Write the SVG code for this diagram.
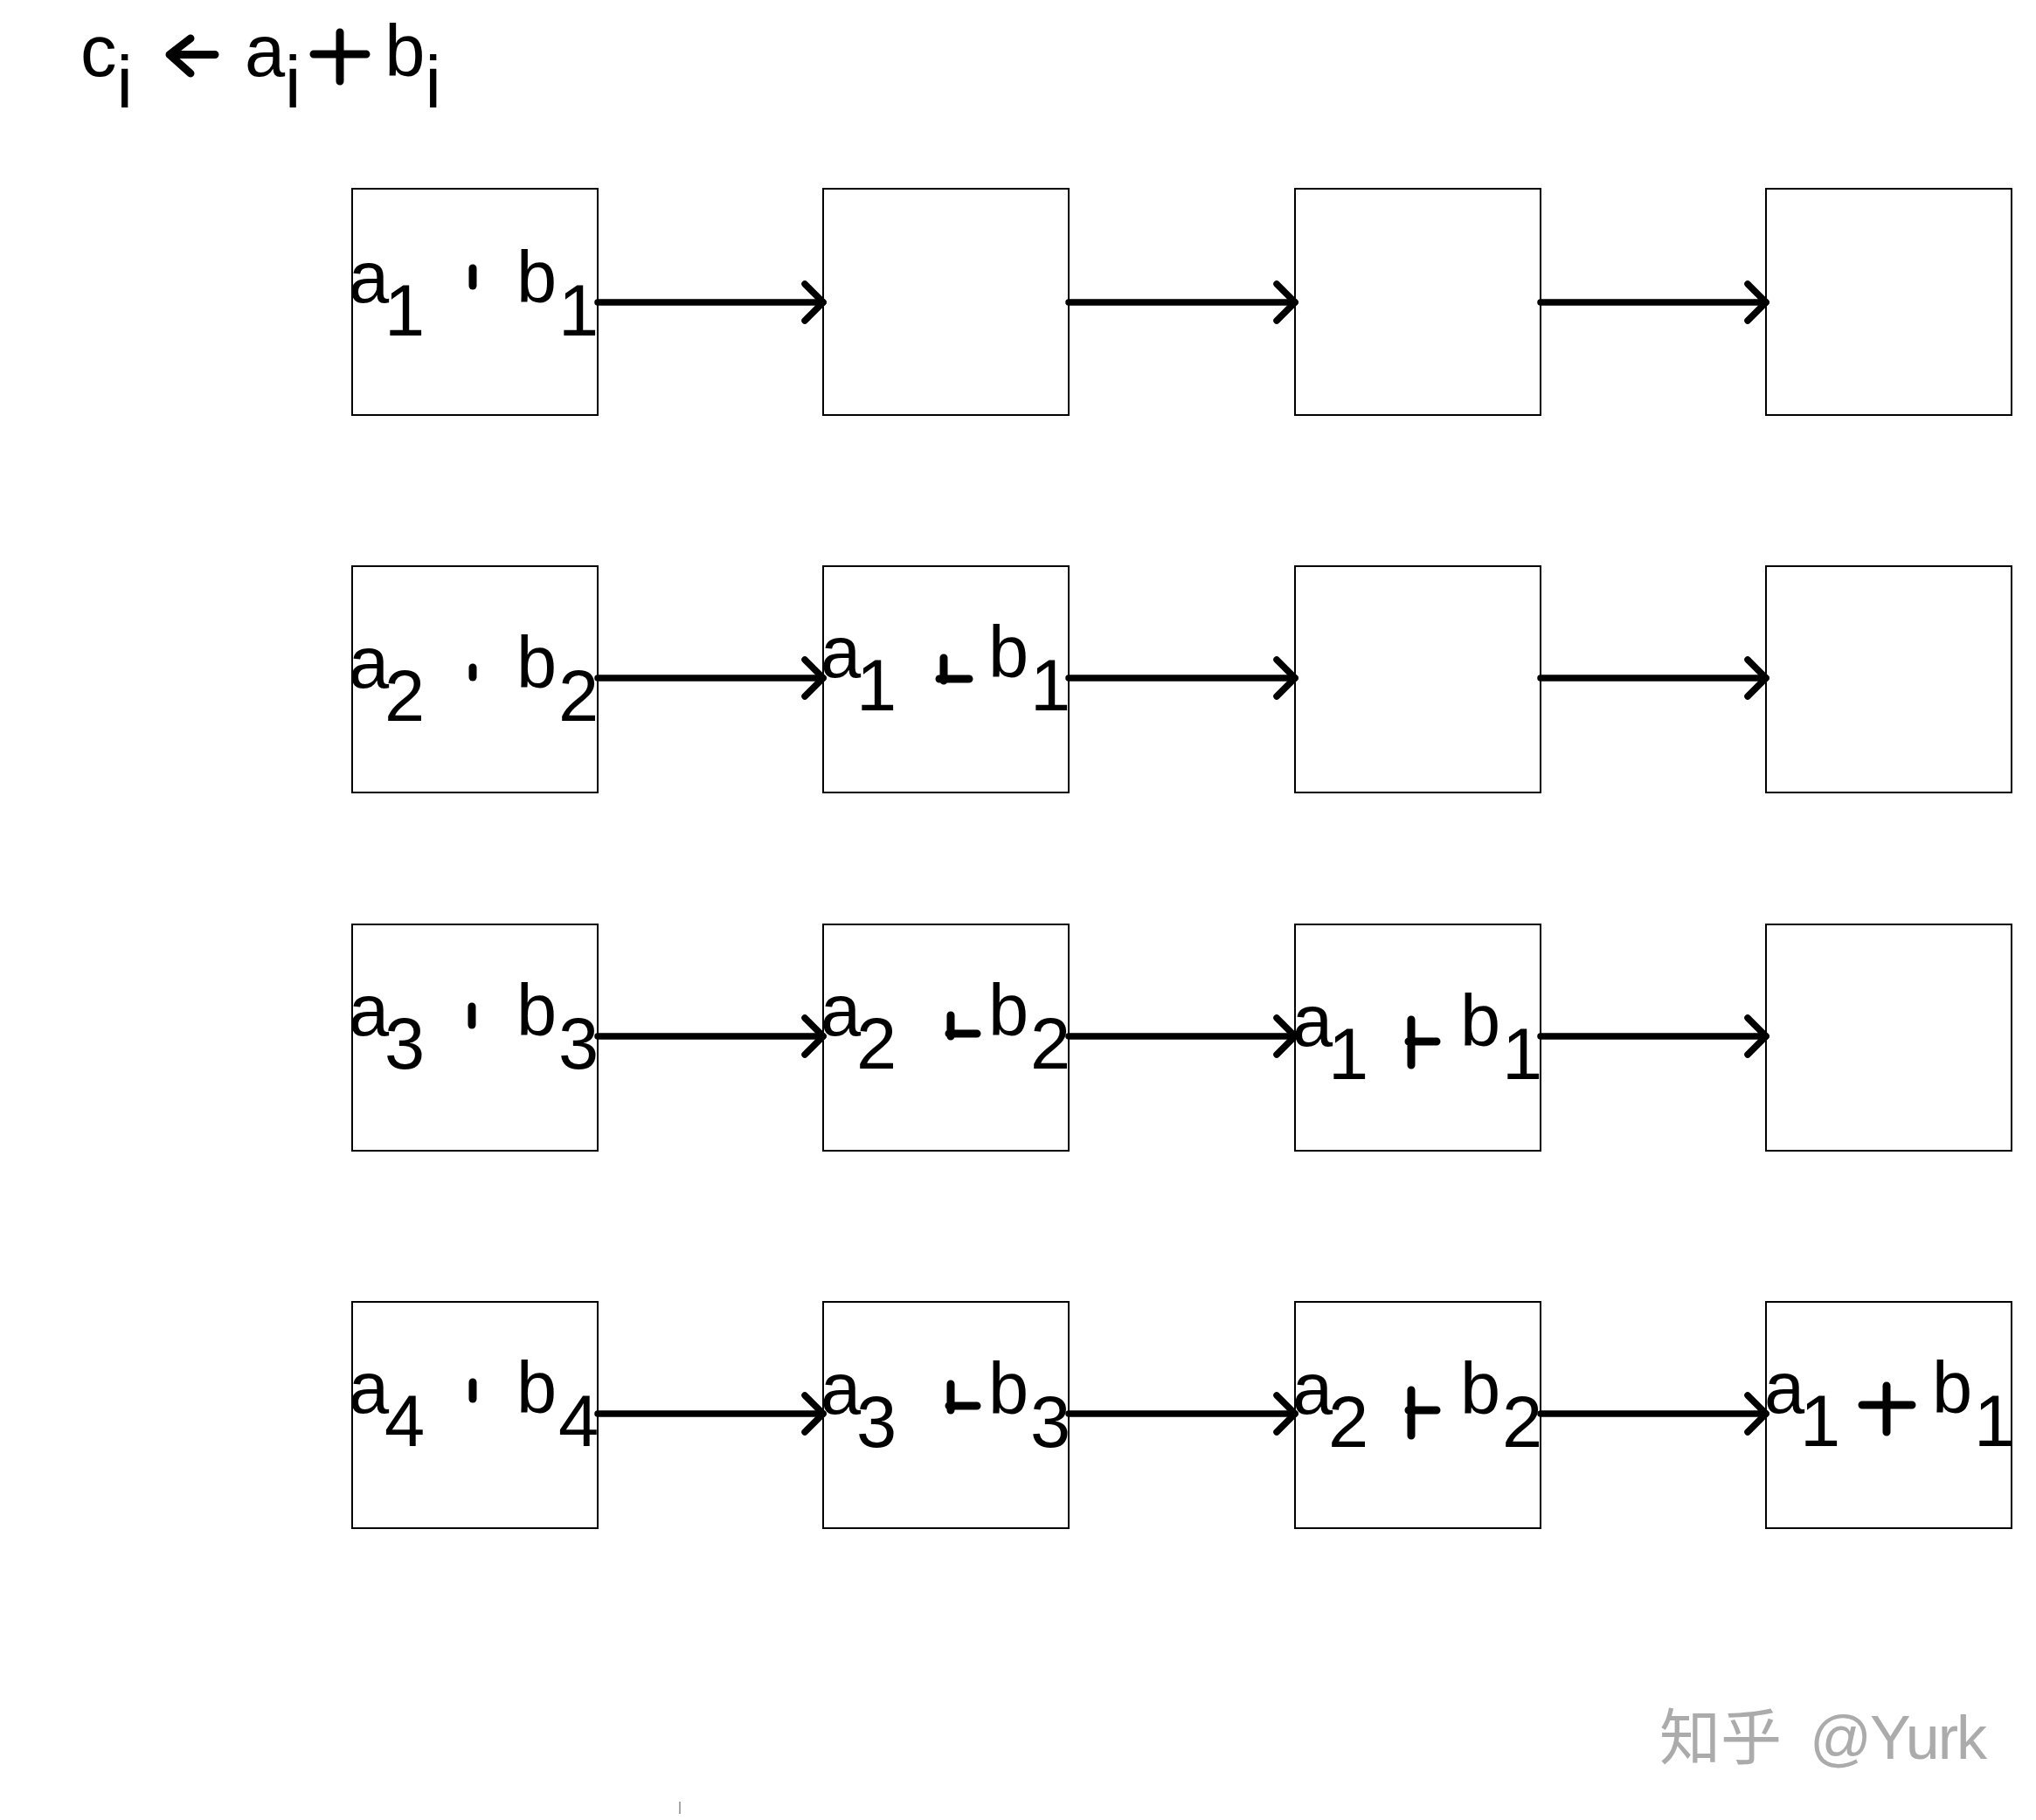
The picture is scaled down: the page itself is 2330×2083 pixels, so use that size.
<svg xmlns="http://www.w3.org/2000/svg" width="2330" height="2083" viewBox="0 0 2330 2083">
<style>
.bg{fill:#fff}
.box{fill:#fff;stroke:#000;stroke-width:2}
.t{font-family:"Liberation Sans",Arial,sans-serif;font-size:83px;fill:#000}
.pl{stroke:#000;stroke-width:9;stroke-linecap:round;stroke-linejoin:round;fill:none}
.con{stroke:#000;stroke-width:7.5;stroke-linecap:round;fill:none}
.wm{fill:#ababab;font-size:70px}
</style>
<defs>
<marker id="chev" viewBox="0 0 34 54" markerWidth="34" markerHeight="54" markerUnits="userSpaceOnUse" refX="28" refY="27" orient="auto">
<path d="M7,6 L28,27 L7,48" fill="none" stroke="#000" stroke-width="7.5" stroke-linecap="round" stroke-linejoin="round"/>
</marker>
</defs>
<rect class="bg" x="0" y="0" width="2330" height="2083"/>

<g id="header">
<text class="t" x="92" y="87">c</text>
<text class="t" x="133.4" y="123">i</text>
<path class="pl" d="M246,62.5 H195 M218,44 L194,62.5 L218,84" stroke-width="8"/>
<text class="t" x="280" y="87">a</text>
<text class="t" x="326" y="123">i</text>
<path class="pl" d="M359,62 H419 M389,37 V93"/>
<text class="t" x="440.2" y="87">b</text>
<text class="t" x="486.4" y="123">i</text>
</g>

<!-- Row 1 -->
<g id="r1c1"><rect class="box" x="403" y="216" width="281" height="259"/>
<text class="t" x="399" y="346">a</text><text class="t" x="440" y="384">1</text>
<path class="pl" d="M541,307 V327"/>
<text class="t" x="591" y="346">b</text><text class="t" x="639" y="384">1</text></g>
<g id="r1c2"><rect class="box" x="942" y="216" width="281" height="259"/></g>
<g id="r1c3"><rect class="box" x="1482" y="216" width="281" height="259"/></g>
<g id="r1c4"><rect class="box" x="2021" y="216" width="281" height="259"/></g>

<!-- Row 2 -->
<g id="r2c1"><rect class="box" x="403" y="648" width="281" height="259"/>
<text class="t" x="399" y="787">a</text><text class="t" x="440" y="825">2</text>
<path class="pl" d="M541,764 V775"/>
<text class="t" x="591" y="787">b</text><text class="t" x="639" y="825">2</text></g>
<g id="r2c2"><rect class="box" x="942" y="648" width="281" height="259"/>
<text class="t" x="939" y="775">a</text><text class="t" x="980" y="813">1</text>
<path class="pl" d="M1080,753 V779 M1075,777 H1109"/>
<text class="t" x="1131" y="775">b</text><text class="t" x="1179" y="813">1</text></g>
<g id="r2c3"><rect class="box" x="1482" y="648" width="281" height="259"/></g>
<g id="r2c4"><rect class="box" x="2021" y="648" width="281" height="259"/></g>

<!-- Row 3 -->
<g id="r3c1"><rect class="box" x="403" y="1058" width="281" height="259"/>
<text class="t" x="399" y="1185">a</text><text class="t" x="440" y="1223">3</text>
<path class="pl" d="M540,1152 V1173"/>
<text class="t" x="591" y="1185">b</text><text class="t" x="639" y="1223">3</text></g>
<g id="r3c2"><rect class="box" x="942" y="1058" width="281" height="259"/>
<text class="t" x="939" y="1185">a</text><text class="t" x="980" y="1223">2</text>
<path class="pl" d="M1088,1162 V1186 M1086,1183 H1118"/>
<text class="t" x="1131" y="1185">b</text><text class="t" x="1179" y="1223">2</text></g>
<g id="r3c3"><rect class="box" x="1482" y="1058" width="281" height="259"/>
<text class="t" x="1479" y="1197">a</text><text class="t" x="1520" y="1235">1</text>
<path class="pl" d="M1615,1167 V1219 M1612,1192 H1644"/>
<text class="t" x="1671" y="1197">b</text><text class="t" x="1719" y="1235">1</text></g>
<g id="r3c4"><rect class="box" x="2021" y="1058" width="281" height="259"/></g>

<!-- Row 4 -->
<g id="r4c1"><rect class="box" x="403" y="1490" width="281" height="259"/>
<text class="t" x="399" y="1617">a</text><text class="t" x="440" y="1655">4</text>
<path class="pl" d="M541,1582 V1601"/>
<text class="t" x="591" y="1617">b</text><text class="t" x="639" y="1655">4</text></g>
<g id="r4c2"><rect class="box" x="942" y="1490" width="281" height="259"/>
<text class="t" x="939" y="1618">a</text><text class="t" x="980" y="1656">3</text>
<path class="pl" d="M1088,1584 V1614 M1086,1609 H1118"/>
<text class="t" x="1131" y="1618">b</text><text class="t" x="1179" y="1656">3</text></g>
<g id="r4c3"><rect class="box" x="1482" y="1490" width="281" height="259"/>
<text class="t" x="1479" y="1618">a</text><text class="t" x="1520" y="1656">2</text>
<path class="pl" d="M1615,1591 V1643 M1612,1614 H1644"/>
<text class="t" x="1671" y="1618">b</text><text class="t" x="1719" y="1656">2</text></g>
<g id="r4c4"><rect class="box" x="2021" y="1490" width="281" height="259"/>
<text class="t" x="2019" y="1617">a</text><text class="t" x="2060" y="1655">1</text>
<path class="pl" d="M2159,1586 V1639 M2131,1608 H2188"/>
<text class="t" x="2211" y="1617">b</text><text class="t" x="2259" y="1655">1</text></g>

<g id="connectors">
<path class="con" marker-end="url(#chev)" d="M684,346 H942"/>
<path class="con" marker-end="url(#chev)" d="M1223,346 H1482"/>
<path class="con" marker-end="url(#chev)" d="M1763,346 H2021"/>
<path class="con" marker-end="url(#chev)" d="M684,776 H942"/>
<path class="con" marker-end="url(#chev)" d="M1223,776 H1482"/>
<path class="con" marker-end="url(#chev)" d="M1763,776 H2021"/>
<path class="con" marker-end="url(#chev)" d="M684,1186 H942"/>
<path class="con" marker-end="url(#chev)" d="M1223,1186 H1482"/>
<path class="con" marker-end="url(#chev)" d="M1763,1186 H2021"/>
<path class="con" marker-end="url(#chev)" d="M684,1618 H942"/>
<path class="con" marker-end="url(#chev)" d="M1223,1618 H1482"/>
<path class="con" marker-end="url(#chev)" d="M1763,1618 H2021"/>
</g>

<g id="watermark">
<text class="wm" x="1899" y="2014" font-family="'Noto Sans CJK SC',sans-serif">知乎</text>
<text class="wm" x="2071" y="2013" font-family="'Liberation Sans',Arial,sans-serif" textLength="203" lengthAdjust="spacing">@Yurk</text>
</g>
<line x1="778" y1="2062" x2="778" y2="2076" stroke="#888" stroke-width="1.5"/>
</svg>
